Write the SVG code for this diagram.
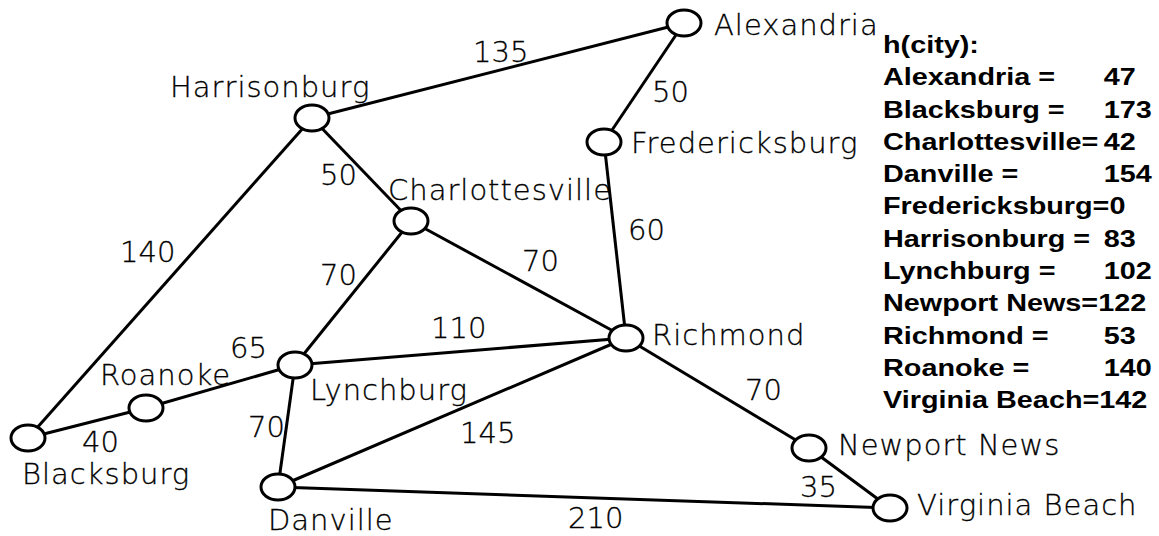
<svg xmlns="http://www.w3.org/2000/svg" width="1159" height="536" viewBox="0 0 1159 536">
<style>
.e{stroke:#000;stroke-width:3;fill:none}
.n{fill:#fff;stroke:#000;stroke-width:3}
.t{font-family:"DejaVu Sans",sans-serif;font-size:29px;font-weight:200;letter-spacing:1px;fill:#000;stroke:#000;stroke-width:0.3}
.w{font-family:"DejaVu Sans",sans-serif;font-size:29px;font-weight:200;fill:#000;stroke:#000;stroke-width:0.3}
.h{font-family:"Liberation Sans",Arial,sans-serif;font-size:24px;font-weight:bold;fill:#000}
</style>
<rect width="1159" height="536" fill="#fff"/>
<g id="connectors">
<line class="e" x1="312" y1="118" x2="684" y2="23"/>
<line class="e" x1="684" y1="23" x2="604" y2="142"/>
<line class="e" x1="312" y1="118" x2="411" y2="221"/>
<line class="e" x1="312" y1="118" x2="28" y2="438"/>
<line class="e" x1="604" y1="142" x2="626" y2="338"/>
<line class="e" x1="411" y1="221" x2="626" y2="338"/>
<line class="e" x1="411" y1="221" x2="295" y2="365"/>
<line class="e" x1="295" y1="365" x2="626" y2="338"/>
<line class="e" x1="146" y1="408" x2="295" y2="365"/>
<line class="e" x1="28" y1="438" x2="146" y2="408"/>
<line class="e" x1="295" y1="365" x2="278" y2="487"/>
<line class="e" x1="278" y1="487" x2="626" y2="338"/>
<line class="e" x1="626" y1="338" x2="809" y2="448"/>
<line class="e" x1="809" y1="448" x2="890" y2="508"/>
<line class="e" x1="278" y1="487" x2="890" y2="508"/>
<text class="w" x="473" y="62">135</text>
<text class="w" x="652" y="102">50</text>
<text class="w" x="320" y="185">50</text>
<text class="w" x="120" y="262">140</text>
<text class="w" x="628" y="240">60</text>
<text class="w" x="522" y="271">70</text>
<text class="w" x="320" y="285">70</text>
<text class="w" x="431" y="338">110</text>
<text class="w" x="230" y="358">65</text>
<text class="w" x="82" y="452">40</text>
<text class="w" x="248" y="437">70</text>
<text class="w" x="460" y="443">145</text>
<text class="w" x="745" y="400">70</text>
<text class="w" x="800" y="497">35</text>
<text class="w" x="568" y="528">210</text>
</g>
<g id="alexandria"><ellipse class="n" cx="684" cy="23" rx="17" ry="13"/><text class="t" x="714" y="35">Alexandria</text></g>
<g id="harrisonburg"><ellipse class="n" cx="312" cy="118" rx="17" ry="13"/><text class="t" x="170" y="97">Harrisonburg</text></g>
<g id="fredericksburg"><ellipse class="n" cx="604" cy="142" rx="17" ry="13"/><text class="t" x="631" y="153">Fredericksburg</text></g>
<g id="charlottesville"><ellipse class="n" cx="411" cy="221" rx="17" ry="13"/><text class="t" x="388" y="200">Charlottesville</text></g>
<g id="richmond"><ellipse class="n" cx="626" cy="338" rx="17" ry="13"/><text class="t" x="652" y="345">Richmond</text></g>
<g id="lynchburg"><ellipse class="n" cx="295" cy="365" rx="17" ry="13"/><text class="t" x="310" y="400">Lynchburg</text></g>
<g id="roanoke"><ellipse class="n" cx="146" cy="408" rx="17" ry="13"/><text class="t" x="100" y="385">Roanoke</text></g>
<g id="blacksburg"><ellipse class="n" cx="28" cy="438" rx="17" ry="13"/><text class="t" x="22" y="484">Blacksburg</text></g>
<g id="danville"><ellipse class="n" cx="278" cy="487" rx="17" ry="13"/><text class="t" x="268" y="530">Danville</text></g>
<g id="newport-news"><ellipse class="n" cx="809" cy="448" rx="17" ry="13"/><text class="t" x="838" y="455">Newport News</text></g>
<g id="virginia-beach"><ellipse class="n" cx="890" cy="508" rx="17" ry="13"/><text class="t" x="917" y="515">Virginia Beach</text></g>
<g id="heuristic" transform="translate(883,0) scale(1.2,1)">
<text class="h" x="0" y="53">h(city):</text>
<text class="h" x="0" y="85.3">Alexandria =</text><text class="h" x="184" y="85.3">47</text>
<text class="h" x="0" y="117.6">Blacksburg =</text><text class="h" x="184" y="117.6">173</text>
<text class="h" x="0" y="149.9">Charlottesville=</text><text class="h" x="184" y="149.9">42</text>
<text class="h" x="0" y="182.2">Danville =</text><text class="h" x="184" y="182.2">154</text>
<text class="h" x="0" y="214.5">Fredericksburg=0</text>
<text class="h" x="0" y="246.8">Harrisonburg =</text><text class="h" x="184" y="246.8">83</text>
<text class="h" x="0" y="279.1">Lynchburg =</text><text class="h" x="184" y="279.1">102</text>
<text class="h" x="0" y="311.4">Newport News=122</text>
<text class="h" x="0" y="343.7">Richmond =</text><text class="h" x="184" y="343.7">53</text>
<text class="h" x="0" y="376">Roanoke =</text><text class="h" x="184" y="376">140</text>
<text class="h" x="0" y="408.3">Virginia Beach=142</text>
</g>
</svg>
